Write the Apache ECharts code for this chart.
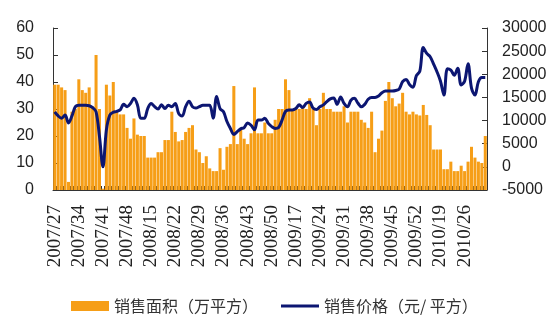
<!DOCTYPE html>
<html>
<head>
<meta charset="utf-8">
<script src="https://cdn.jsdelivr.net/npm/echarts@6/dist/echarts.min.js"></script>
<style>html,body{margin:0;padding:0;background:#fff;}#c{width:557px;height:324px;}</style>
</head>
<body>
<div id="c"></div>
<script>
// week segments: [year, firstWeek, lastWeek]
const weekSegments = [['2007', 27, 52], ['2008', 13, 52], ['2009', 13, 52], ['2010', 13, 32]];
const categories = [];
weekSegments.forEach(s => { for (let w = s[1]; w <= s[2]; w++) categories.push(s[0] + '/' + (w < 10 ? '0' + w : w)); });

const areaName = '销售面积（万平方）';
const priceName = '销售价格（元/ 平方）';

const areaData = [
  39,39,38,37,3,29,30,41,37,36,
  38,31,50,30,0.5,39,35,40,29,28,
  28,23,19,26.5,20.5,20,20,12,12,12,
  14,14,18.5,18.5,29,21.5,18,18.5,21.5,23,
  24,15,14,10,12.5,8,7,7,15.5,7.5,
  16,17,38.5,17,23,19,17,21,38,21,
  21,25,21,21,26,30,30,41,37,30,
  30,30,31,30,34,30,24,30,36,30,
  30,29,29,29,31,25,29,29,29,26,
  25,23,29,14,19,22,33,40,34,31,
  32,36,29,28,29,28,27.6,31.5,27.8,24,
  15,15,15,7.7,7.7,10.5,7,7,9,7,
  10.5,16,12,10.5,10,20
];

const priceData = [
  11900,11000,10500,11200,9500,11000,13000,13300,13300,13300,
  13200,12800,11900,6500,0,8000,11200,11800,12000,12300,
  13500,13000,13700,14800,13400,10500,10500,12600,13700,13000,
  12500,13400,12600,13300,13000,13700,11500,11000,13000,14200,
  13000,12700,13000,13300,13300,13300,10500,15200,12600,11900,
  9800,8300,7000,7600,8200,8500,9500,9000,8000,10100,
  10100,10500,9400,8700,8300,8500,10100,12000,12300,12300,
  12600,13400,12800,13700,14000,12700,12400,13000,13400,14100,
  14700,14900,13500,15100,13700,13000,14400,14800,13800,13000,
  13500,14600,15000,15000,15300,16000,16400,16400,16400,16500,
  16800,18400,18900,17800,17200,19700,20700,25800,24500,23800,
  22200,20500,18500,15500,21200,20900,19800,21300,17700,18500,
  22300,17000,15500,18400,19300,19300
];

const barColor = '#F69E17';
const lineColor = '#0C1672';
const chart = echarts.init(document.getElementById('c'), null, {renderer: 'canvas'});
const axisCol = '#333';
const legendText = {fontFamily: 'Noto Sans CJK SC', fontSize: 16, color: '#333'};
chart.setOption({
  animation: false,
  backgroundColor: '#fff',
  grid: {left: 53, right: 70, top: 28, bottom: 134},
  legend: [
    {left: 66, top: 293, itemWidth: 38, itemHeight: 10, textStyle: legendText,
     data: [{name: areaName, icon: 'rect'}]},
    {left: 276, top: 293, itemWidth: 38, itemHeight: 3, textStyle: legendText,
     data: [{name: priceName, icon: 'rect', itemStyle: {color: lineColor}}]}
  ],
  xAxis: {
    type: 'category', data: categories, boundaryGap: true,
    axisLine: {lineStyle: {color: axisCol, width: 1}},
    axisTick: {show: true, inside: true, length: 4, interval: 0, lineStyle: {color: axisCol}},
    axisLabel: {interval: 6, rotate: 90, margin: 15, fontFamily: 'Liberation Serif', fontSize: 19, color: '#222'}
  },
  yAxis: [
    {type: 'value', min: 0, max: 60, interval: 10,
     axisLine: {show: true, lineStyle: {color: axisCol}},
     axisTick: {show: true, inside: true, length: 5, lineStyle: {color: axisCol}},
     splitLine: {show: false},
     axisLabel: {margin: 19, fontFamily: 'Liberation Sans', fontSize: 16, color: '#222'}},
    {type: 'value', min: -5000, max: 30000, interval: 5000,
     axisLine: {show: true, lineStyle: {color: axisCol}},
     axisTick: {show: true, inside: true, length: 5, lineStyle: {color: axisCol}},
     splitLine: {show: false},
     axisLabel: {margin: 15, fontFamily: 'Liberation Sans', fontSize: 16, color: '#222',
                 formatter: v => String(v)}}
  ],
  series: [
    {name: areaName, type: 'bar', yAxisIndex: 0, data: areaData, barCategoryGap: '12%',
     itemStyle: {color: barColor}},
    {name: priceName, type: 'line', yAxisIndex: 1, data: priceData, smooth: 0.35,
     symbol: 'none', lineStyle: {color: lineColor, width: 3}, itemStyle: {color: lineColor}, z: 3}
  ]
});
</script>
</body>
</html>
